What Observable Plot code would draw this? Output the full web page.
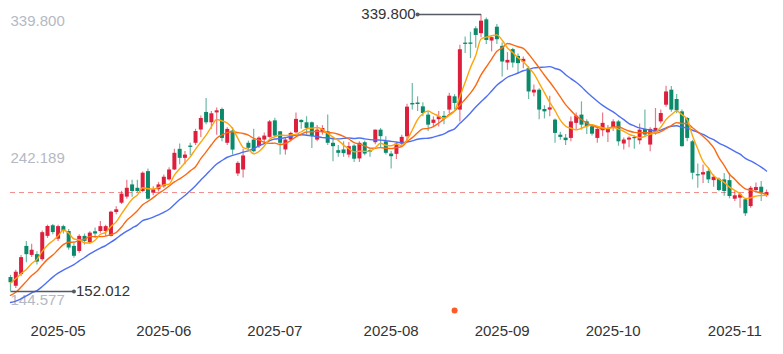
<!DOCTYPE html>
<html>
<head>
<meta charset="utf-8">
<script src="https://cdn.jsdelivr.net/npm/d3@7"></script>
<script src="https://cdn.jsdelivr.net/npm/@observablehq/plot@0.6"></script>
<style>
  html, body { margin: 0; padding: 0; background: #fff; }
  #chart { width: 783px; height: 354px; }
</style>
</head>
<body>
<div id="chart"></div>
<script>
// ---- data ----
const xTickIdx = [9, 29, 50, 72, 93, 114, 137];
const xTickLabels = ["2025-05", "2025-06", "2025-07", "2025-08", "2025-09", "2025-10", "2025-11"];
const yLabelValues = [339.8, 242.189, 144.577];
const eventIdx = [84];

// closes before the first visible candle (estimated, only used for moving averages)
const priorCloses = [146, 143, 140, 138, 141, 137, 132, 128, 143, 150, 144, 140, 138, 141, 143, 149, 158, 163, 160];

const opens = [161.5,155.6,163.5,182.6,176.5,177,173.6,189.4,196.6,187.5,196,192.7,182.6,179.2,189.4,185,192.5,192.7,192.7,189.4,
205.6,211.9,216,224.3,222,219.8,233.3,218.7,221,223,227.7,234.4,248.4,242.3,250.6,252.5,261.5,273.4,266.4,273.1,
275.4,252.5,260.8,231.7,234.4,252.5,254.7,250.2,254.7,256.5,267.7,260.3,248,254.7,259.6,268,266.4,266.4,254.7,259.9,
260.3,252.5,247.5,248,244.5,250.6,241.9,252.9,247.5,252.9,261.4,253.5,245.2,245,252,256.9,279.5,279.8,277.2,271.6,
266,268.5,270.8,275,284,275,320.4,320.5,330.1,326.8,336.2,321.8,331.2,318.2,306.9,316,311.4,307.6,303.1,286.6,
288.5,275.4,275,268.2,258,256,255.8,266,271.6,267,263.7,255.8,261,259.6,262.6,267,252,254.7,256.2,254.2,
261.9,251.3,260.3,267,278.3,288.5,282.2,273.8,269.3,253.5,231,231,233.3,227.2,228.1,227.7,227.2,214.6,215.3,214.2,
209.6,220.5,222.7,216.9];
const highs = [163,166.5,176.5,186,184,179,193,197,197.5,197,197,194,185.5,190.5,191,192.5,195,199.5,197,206.5,
209.5,220,227.5,227.5,227.5,233,235,223,226,231,236,248.5,252,247,252.5,262,271,282.9,274,276.5,
276.5,263,263,240,248.5,254,262,257,259.5,268,269.5,260.5,256,260,273,268.5,270.5,267,264.5,264.5,
271.6,256,251,253.5,253,251.5,253.5,254,249,261.5,262.5,257,247,253,258,279,293,284,280,274,
270.4,274,274,286.5,285.5,318.9,324.5,327.8,331.5,339.8,337.5,324.5,333,320.5,314,317,313,311,304.5,292,
289.5,278,284.4,269,260,258.5,270.4,273,280.6,268.5,265,264,273.1,264.5,268.5,268,256,257,257.5,265.5,
275,263,276.1,275,291.2,291,285.5,275,270,254.5,238.5,237.7,234.5,231,229,232,232,219.8,218.7,215,
223.2,225.5,226.6,220.8];
const lows = [152.012,154,162,171.6,175,170,172.5,188,190.5,186,191,180,174.5,178,183.5,184,188,191.5,189.5,189,
204,211,214.5,216,219,219,214,217,219.5,222,227,234,238,238,244,251,256.5,265,262,258,
253.5,251,244.5,230,229,247.5,246,249,252,256,257,244.5,244.5,253.5,259,262,258,249,253.5,258,
251,240,243,243,242.5,239.5,239.5,244,243,251.5,249.5,244.5,235,241.5,251,254,275,274,270.5,260.5,
263.5,263.5,265,272.7,275,267,313.3,309.9,317,324,319.5,314.5,319.5,297.5,302,303.5,299.5,303,282.2,284,
268.5,269,270.5,252.5,254.5,251,253.5,261.5,261.5,258.5,257.5,252.5,257,253,260.5,250.5,247.9,249.5,248.5,251.5,
257,246.8,258,265.5,277,273.5,272.5,250,253.5,227.7,222,225.3,225.3,222.7,219.6,216.6,214.8,213.1,208.5,202.9,
208.5,218.7,213.1,215.8];
const closes = [158,165.1,175,177,180,172,191.9,196.1,192,196,192.7,181.5,175.9,189.4,186,191.6,191,196,196,205.8,
207.4,218,222,219.8,219.8,232.2,214.6,221,224.3,229.5,234.4,245.7,242.3,244.5,249.7,260.5,269.3,266.4,272.5,274.5,
255.8,261.9,247.9,238.9,243.9,249.1,246.8,256,257.4,267,257.4,252.5,254.7,259.2,268.7,266.5,262.6,257,261.4,262.5,
252.5,250.2,245.7,245.5,250.2,241.7,252.5,245.2,246.5,261.4,257,245.7,243.4,252,256.5,277,278.5,278.8,272.7,264.8,
268.2,270.4,269.7,284.4,279.5,315.9,319.5,319.6,325.6,335.3,322.2,324.1,322.7,307.6,308.7,306.9,306.5,309.4,287.3,288.5,
275,273.8,276.5,259.2,256.5,254.3,267,270.9,264.8,263.7,258.7,261.9,266,261.9,267,253.5,254.7,256,255.6,261.4,
258.1,261.9,262.6,272.7,287.3,275,274.5,250.2,255.8,232.2,230.4,232.6,227.7,229.5,220.5,219.8,216.4,216.9,217.5,204.7,
222,222.5,218.7,219.1];

// ---- derived ----
const candles = closes.map((c, i) => ({i, o: opens[i], h: highs[i], l: lows[i], c}));
const allCloses = priorCloses.concat(closes);
function movingAverage(n) {
  return closes.map((_, i) => {
    const j = i + priorCloses.length;
    return {i, v: d3.mean(allCloses.slice(j - n + 1, j + 1))};
  });
}
const ma5 = movingAverage(5), ma10 = movingAverage(10), ma20 = movingAverage(20);

const UP = "#dc1f3d", DOWN = "#0b8a6b";
const col = d => d.c >= d.o ? UP : DOWN;

const maxI = d3.maxIndex(highs), minI = d3.minIndex(lows);
const markers = [
  {i: maxI, v: highs[maxI], i2: maxI - 12, side: "end"},
  {i: minI, v: lows[minI], i2: minI + 12, side: "start"}
];

const labelFill = "#b4b9c3";
const font = 15;

const chart = Plot.plot({
  width: 783,
  height: 354,
  marginTop: 14,
  marginBottom: 52,
  marginLeft: 10,
  marginRight: 17,
  style: {fontFamily: "'Liberation Sans', Arial, sans-serif", background: "#fff", overflow: "visible"},
  x: {type: "linear", domain: [0, closes.length - 1], axis: null},
  y: {domain: [144.577, 339.8], axis: null},
  marks: [
    Plot.text([yLabelValues[0]], {y: d => d, text: d => d.toFixed(3), frameAnchor: "left", textAnchor: "start", lineAnchor: "top", dy: 1, fill: labelFill, fontSize: font}),
    Plot.text([yLabelValues[1]], {y: d => d, text: d => d.toFixed(3), frameAnchor: "left", textAnchor: "start", lineAnchor: "middle", fill: labelFill, fontSize: font}),
    Plot.text([yLabelValues[2]], {y: d => d, text: d => d.toFixed(3), frameAnchor: "left", textAnchor: "start", lineAnchor: "middle", dy: -2, fill: labelFill, fontSize: font}),
    Plot.ruleY([closes[closes.length - 1]], {stroke: "#f28b8b", strokeDasharray: "5,4", strokeWidth: 1}),
    Plot.axisX(xTickIdx, {tickSize: 0, tickPadding: 23, tickFormat: d => xTickLabels[xTickIdx.indexOf(d)], fontSize: font, fill: "#333"}),
    // wicks
    Plot.ruleX(candles, {x: "i", y1: "l", y2: "h", stroke: col, strokeOpacity: 0.6, strokeWidth: 1.2}),
    // bodies
    Plot.ruleX(candles, {x: "i", y1: d => Math.min(d.o, d.c), y2: d => Math.max(d.o, d.c, Math.min(d.o, d.c) + 0.8), stroke: col, strokeWidth: 4}),
    // moving averages
    Plot.line(ma20, {x: "i", y: "v", stroke: "#4f6ff2", strokeWidth: 1.4, curve: "monotone-x"}),
    Plot.line(ma10, {x: "i", y: "v", stroke: "#fa6a14", strokeWidth: 1.4, curve: "monotone-x"}),
    Plot.line(ma5, {x: "i", y: "v", stroke: "#ffa50a", strokeWidth: 1.4, curve: "monotone-x"}),
    // max / min markers
    Plot.link(markers, {x1: "i", y1: "v", x2: "i2", y2: "v", stroke: "#555a63", strokeWidth: 1.5}),
    Plot.dot(markers, {x: "i2", y: "v", r: 2, fill: "#555a63"}),
    Plot.text(markers.filter(d => d.side === "end"), {x: "i2", y: "v", text: d => d.v.toFixed(3), textAnchor: "end", dx: -2, fill: "#333", fontSize: font}),
    Plot.text(markers.filter(d => d.side === "start"), {x: "i2", y: "v", text: d => d.v.toFixed(3), textAnchor: "start", dx: 2, fill: "#333", fontSize: font}),
    // event marker
    Plot.dot(eventIdx, {x: d => d, frameAnchor: "bottom", dy: 8, r: 3, fill: "#ff5a24"})
  ]
});
document.getElementById("chart").appendChild(chart);
</script>
</body>
</html>
